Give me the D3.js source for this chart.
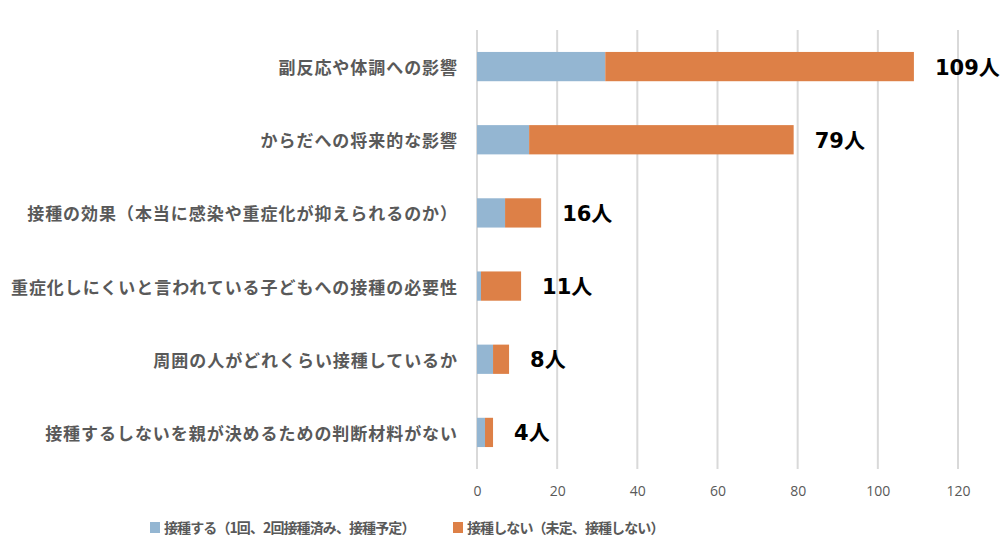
<!DOCTYPE html>
<html><head><meta charset="utf-8">
<script src="https://cdn.jsdelivr.net/npm/d3@7"></script>
<style>body{margin:0;background:#fff}svg{display:block}</style>
</head><body>
<svg id="c" width="1006" height="555"></svg>
<script>
const categories = [
  "副反応や体調への影響",
  "からだへの将来的な影響",
  "接種の効果（本当に感染や重症化が抑えられるのか）",
  "重症化しにくいと言われている子どもへの接種の必要性",
  "周囲の人がどれくらい接種しているか",
  "接種するしないを親が決めるための判断材料がない"
];
const seriesNames = ["接種する（1回、2回接種済み、接種予定）", "接種しない（未定、接種しない）"];
const vaccinated = [32, 13, 7, 1, 4, 2];
const notVaccinated = [77, 66, 9, 10, 4, 2];
const totals = [109, 79, 16, 11, 8, 4];
const xTicks = [0, 20, 40, 60, 80, 100, 120];

const colors = ["#94B6D2", "#DD8047"];
const font = "'Noto Sans CJK JP', 'Noto Sans', sans-serif";
const svg = d3.select("#c");
const x = d3.scaleLinear().domain([0, 120]).range([477, 958]);
const y = d3.scaleBand().domain(categories).range([30, 469]).paddingInner(0.6).paddingOuter(0.3);

// gridlines
svg.append("g").selectAll("line").data(xTicks).join("line")
  .attr("x1", d => x(d)).attr("x2", d => x(d))
  .attr("y1", 30).attr("y2", 469)
  .attr("stroke", "#d9d9d9").attr("stroke-width", 2);

// axis
const ax = svg.append("g").attr("transform", "translate(0,469)")
  .call(d3.axisBottom(x).tickValues(xTicks).tickSize(0).tickPadding(17));
ax.select(".domain").remove();
ax.selectAll("text").attr("fill", "#595959").style("font-family", "'Open Sans','DejaVu Sans',sans-serif").style("font-size", "14px");

const stacked = d3.stack().keys([0, 1]).value((d, k) => d[k])(categories.map((c, i) => [vaccinated[i], notVaccinated[i]]));
svg.append("g").selectAll("g").data(stacked).join("g")
  .attr("fill", (d, i) => colors[i])
  .selectAll("rect").data(d => d.map((v, i) => ({v, c: categories[i]}))).join("rect")
  .attr("x", d => x(d.v[0])).attr("width", d => x(d.v[1]) - x(d.v[0]))
  .attr("y", d => y(d.c)).attr("height", y.bandwidth());

// category labels
svg.append("g").selectAll("text").data(categories).join("text")
  .attr("x", 458).attr("y", d => y(d) + y.bandwidth() / 2)
  .attr("text-anchor", "end").attr("dominant-baseline", "central")
  .attr("fill", "#595959").style("font-family", font).style("font-weight", "bold")
  .style("font-size", "17px").style("letter-spacing", "0.95px")
  .text(d => d);

// value labels
svg.append("g").selectAll("text").data(totals).join("text")
  .attr("x", (d, i) => x(vaccinated[i] + notVaccinated[i]) + 21)
  .attr("y", (d, i) => y(categories[i]) + y.bandwidth() / 2 + 1)
  .attr("dominant-baseline", "central")
  .attr("fill", "#000").style("font-family", "'DejaVu Sans', 'Noto Sans CJK JP', sans-serif").style("font-weight", "bold").style("font-size", "21px")
  .text(d => d + "人");

// legend
const lg = svg.append("g");
const lx = [150, 453];
seriesNames.forEach((s, i) => {
  lg.append("rect").attr("x", lx[i]).attr("y", 522).attr("width", 10).attr("height", 11).attr("fill", colors[i]);
  lg.append("text").attr("x", lx[i] + 14).attr("y", 527).attr("dominant-baseline", "central")
    .attr("fill", "#595959").style("font-family", font).style("font-weight", "bold")
    .style("font-size", "14px").style("letter-spacing", "-0.9px")
    .text(s);
});
</script>
</body></html>
